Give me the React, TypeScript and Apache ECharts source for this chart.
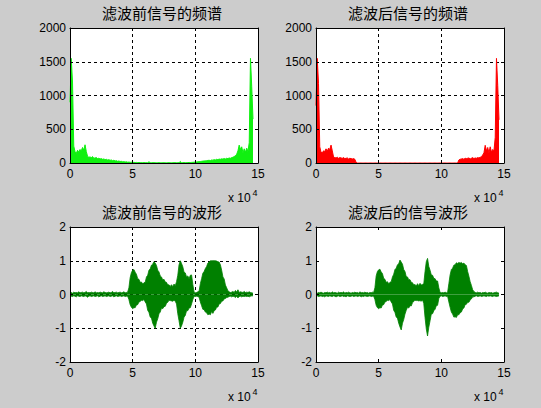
import React, { useEffect, useRef } from "react";
import * as echarts from "echarts";

// One stored point per 1000 samples; x is the sample index.
const SAMPLE_STEP = 1000;
const X_MAX = 150000;
const X_TICK_STEP = 50000;

const titles = ["滤波前信号的频谱", "滤波后信号的频谱", "滤波前信号的波形", "滤波后的信号波形"];

const specTicks = [0, 500, 1000, 1500, 2000];
const waveTicks = [-2, -1, 0, 1, 2];

// |FFT| of the raw recording
const specBefore = [
  900, 1550, 1200, 250, 170, 140, 190, 160, 200, 180,
  230, 190, 270, 170, 100, 85, 90, 80, 95, 70,
  75, 80, 65, 70, 60, 65, 55, 60, 50, 55,
  45, 50, 40, 45, 35, 40, 30, 35, 25, 30,
  22, 25, 18, 20, 15, 18, 12, 14, 10, 12,
  8, 10, 7, 9, 6, 8, 5, 7, 5, 6,
  5, 6, 4, 18, 5, 4, 6, 4, 5, 4,
  4, 5, 3, 4, 5, 3, 4, 3, 5, 4,
  4, 3, 5, 4, 6, 4, 5, 4, 22, 5,
  5, 6, 5, 7, 6, 8, 7, 9, 10, 12,
  14, 16, 18, 20, 22, 25, 28, 30, 32, 35,
  38, 40, 36, 45, 42, 50, 46, 55, 50, 58,
  55, 62, 58, 66, 60, 70, 65, 75, 70, 80,
  85, 95, 110, 130, 180, 265, 200, 240, 150, 210,
  160, 220, 170, 300, 1550, 1130, 650,
];

// |FFT| after the low-pass filter
const specAfter = [
  850, 1550, 1180, 240, 160, 150, 180, 170, 210, 175,
  220, 200, 265, 180, 90, 80, 75, 85, 70, 80,
  75, 70, 80, 65, 70, 75, 60, 70, 65, 60,
  65, 55, 10, 0, 0, 0, 0, 0, 0, 0,
  0, 0, 0, 0, 0, 0, 0, 0, 0, 0,
  0, 0, 0, 0, 0, 0, 0, 0, 0, 0,
  0, 0, 0, 0, 0, 0, 0, 0, 0, 0,
  0, 0, 0, 0, 0, 0, 0, 0, 0, 0,
  0, 0, 0, 0, 0, 0, 0, 0, 0, 0,
  0, 0, 0, 0, 0, 0, 0, 0, 0, 0,
  0, 0, 0, 0, 0, 0, 0, 0, 0, 0,
  0, 0, 0, 0, 45, 55, 60, 65, 55, 70,
  65, 70, 75, 60, 70, 80, 65, 75, 70, 80,
  75, 85, 90, 120, 150, 262, 180, 230, 150, 240,
  160, 200, 180, 380, 1550, 1150, 640,
];

// Waveform envelopes (max / min of each 1000-sample block)
const waveBeforeUpper = [
  0.05, 0.06, 0.04, 0.07, 0.05, 0.06, 0.05, 0.08, 0.05, 0.06,
  0.07, 0.05, 0.06, 0.09, 0.05, 0.06, 0.05, 0.07, 0.06, 0.05,
  0.08, 0.05, 0.06, 0.05, 0.07, 0.06, 0.05, 0.08, 0.06, 0.05,
  0.06, 0.07, 0.05, 0.06, 0.09, 0.05, 0.06, 0.07, 0.05, 0.06,
  0.07, 0.05, 0.06, 0.08, 0.05, 0.06, 0.07, 0.2, 0.5, 0.65,
  0.72, 0.74, 0.66, 0.6, 0.47, 0.45, 0.36, 0.37, 0.31, 0.35,
  0.36, 0.52, 0.57, 0.72, 0.76, 0.87, 0.9, 0.97, 0.93, 0.86,
  0.72, 0.67, 0.55, 0.52, 0.43, 0.45, 0.37, 0.36, 0.28, 0.29,
  0.24, 0.29, 0.23, 0.31, 0.26, 0.38, 0.57, 0.88, 1.0, 0.92,
  0.82, 0.66, 0.64, 0.52, 0.55, 0.47, 0.57, 0.58, 0.3, 0.07,
  0.05, 0.06, 0.08, 0.1, 0.32, 0.47, 0.63, 0.68, 0.77, 0.83,
  0.93, 0.96, 1.0, 1.0, 1.0, 1.0, 1.0, 0.99, 0.97, 0.96,
  0.88, 0.72, 0.52, 0.46, 0.28, 0.2, 0.11, 0.08, 0.06, 0.07,
  0.09, 0.06, 0.12, 0.07, 0.14, 0.06, 0.08, 0.07, 0.06, 0.09,
  0.06, 0.07, 0.06, 0.08, 0.06, 0.05, 0.04,
];
const waveBeforeLower = [
  -0.04, -0.05, -0.06, -0.04, -0.05, -0.07, -0.04, -0.05, -0.06, -0.04,
  -0.05, -0.06, -0.04, -0.05, -0.08, -0.05, -0.04, -0.06, -0.05, -0.04,
  -0.06, -0.05, -0.04, -0.07, -0.05, -0.04, -0.06, -0.05, -0.04, -0.06,
  -0.05, -0.04, -0.06, -0.05, -0.04, -0.07, -0.05, -0.04, -0.06, -0.05,
  -0.04, -0.06, -0.05, -0.04, -0.06, -0.05, -0.05, -0.15, -0.3, -0.38,
  -0.42, -0.39, -0.39, -0.31, -0.3, -0.22, -0.21, -0.17, -0.18, -0.15,
  -0.22, -0.28, -0.47, -0.53, -0.67, -0.7, -0.85, -0.93, -1.0, -0.82,
  -0.72, -0.57, -0.52, -0.4, -0.42, -0.36, -0.35, -0.26, -0.23, -0.17,
  -0.18, -0.19, -0.2, -0.17, -0.2, -0.28, -0.57, -0.78, -1.0, -0.93,
  -0.82, -0.67, -0.62, -0.48, -0.48, -0.4, -0.39, -0.28, -0.15, -0.05,
  -0.06, -0.05, -0.06, -0.08, -0.22, -0.33, -0.44, -0.45, -0.52, -0.54,
  -0.6, -0.58, -0.6, -0.5, -0.56, -0.48, -0.46, -0.38, -0.37, -0.28,
  -0.27, -0.2, -0.19, -0.13, -0.12, -0.09, -0.08, -0.06, -0.05, -0.07,
  -0.05, -0.06, -0.09, -0.05, -0.1, -0.06, -0.05, -0.07, -0.05, -0.06,
  -0.05, -0.06, -0.05, -0.07, -0.05, -0.04, -0.04,
];
const waveAfterUpper = [
  0.05, 0.04, 0.06, 0.05, 0.07, 0.05, 0.04, 0.06, 0.05, 0.07,
  0.05, 0.06, 0.04, 0.08, 0.05, 0.06, 0.05, 0.04, 0.07, 0.05,
  0.06, 0.05, 0.08, 0.04, 0.06, 0.05, 0.07, 0.05, 0.04, 0.06,
  0.05, 0.07, 0.05, 0.06, 0.04, 0.08, 0.05, 0.06, 0.05, 0.07,
  0.05, 0.06, 0.04, 0.06, 0.05, 0.07, 0.06, 0.2, 0.55, 0.68,
  0.73, 0.75, 0.67, 0.62, 0.48, 0.45, 0.36, 0.38, 0.32, 0.36,
  0.38, 0.52, 0.6, 0.74, 0.78, 0.88, 0.91, 1.02, 0.96, 0.9,
  0.74, 0.68, 0.53, 0.52, 0.44, 0.44, 0.36, 0.35, 0.28, 0.3,
  0.25, 0.32, 0.26, 0.33, 0.28, 0.3, 0.32, 0.68, 0.97, 1.07,
  0.83, 0.72, 0.58, 0.57, 0.48, 0.47, 0.4, 0.4, 0.2, 0.06,
  0.05, 0.06, 0.05, 0.07, 0.05, 0.06, 0.32, 0.58, 0.74, 0.78,
  0.87, 0.88, 0.94, 0.92, 0.95, 0.93, 0.95, 0.91, 0.93, 0.88,
  0.86, 0.68, 0.54, 0.38, 0.27, 0.14, 0.09, 0.06, 0.05, 0.07,
  0.05, 0.06, 0.04, 0.06, 0.05, 0.07, 0.05, 0.04, 0.06, 0.05,
  0.06, 0.04, 0.05, 0.06, 0.07, 0.05, 0.04,
];
const waveAfterLower = [
  -0.05, -0.04, -0.06, -0.05, -0.04, -0.06, -0.05, -0.07, -0.04, -0.05,
  -0.06, -0.04, -0.05, -0.06, -0.04, -0.05, -0.07, -0.05, -0.04, -0.06,
  -0.05, -0.04, -0.06, -0.05, -0.07, -0.04, -0.05, -0.06, -0.05, -0.04,
  -0.06, -0.05, -0.04, -0.06, -0.05, -0.04, -0.07, -0.05, -0.06, -0.04,
  -0.05, -0.06, -0.05, -0.04, -0.06, -0.05, -0.05, -0.15, -0.32, -0.39,
  -0.42, -0.39, -0.4, -0.31, -0.3, -0.22, -0.21, -0.17, -0.18, -0.15,
  -0.22, -0.28, -0.47, -0.53, -0.67, -0.7, -0.85, -0.96, -1.05, -0.85,
  -0.74, -0.58, -0.47, -0.38, -0.4, -0.33, -0.34, -0.24, -0.21, -0.17,
  -0.18, -0.18, -0.19, -0.18, -0.2, -0.16, -0.27, -0.68, -1.02, -1.23,
  -0.97, -0.78, -0.58, -0.57, -0.48, -0.44, -0.33, -0.32, -0.12, -0.05,
  -0.04, -0.06, -0.05, -0.04, -0.06, -0.05, -0.22, -0.38, -0.52, -0.58,
  -0.67, -0.66, -0.68, -0.6, -0.6, -0.54, -0.52, -0.43, -0.4, -0.3,
  -0.29, -0.23, -0.23, -0.16, -0.13, -0.07, -0.07, -0.05, -0.04, -0.06,
  -0.05, -0.04, -0.06, -0.05, -0.04, -0.05, -0.06, -0.04, -0.05, -0.04,
  -0.05, -0.06, -0.04, -0.05, -0.06, -0.05, -0.04,
];

const FONT = '"Liberation Sans", Arial, sans-serif';
const CJK = '"Noto Sans CJK SC", "Noto Sans CJK TC", sans-serif';
const BG = "#cccccc";
const SPEC_GREEN = "#10f010";
const SPEC_RED = "#ff0000";
const WAVE_GREEN = "#008000";

const PLOT_W = 188;
const PLOT_H = 135;
const panels = [
  { left: 70, top: 28, ticks: specTicks, showGrid: true },
  { left: 316, top: 28, ticks: specTicks, showGrid: true },
  { left: 70, top: 227, ticks: waveTicks, showGrid: true },
  { left: 316, top: 227, ticks: waveTicks, showGrid: false },
];

const toPoints = (arr: number[]) => arr.map((v, i) => [i * SAMPLE_STEP, v]);

function buildOption() {
  const grid: any[] = [];
  const xAxis: any[] = [];
  const yAxis: any[] = [];
  const graphic: any[] = [];

  const axisLine = { show: true, onZero: false, lineStyle: { color: "#000", width: 1 } };
  const axisTick = { show: true, inside: true, length: 3, lineStyle: { color: "#000", width: 1 } };
  const dashed = { color: "#000", width: 1, type: [3, 3] };

  panels.forEach((p, g) => {
    const yMin = p.ticks[0];
    const yMax = p.ticks[p.ticks.length - 1];
    const yStep = p.ticks[1] - p.ticks[0];
    grid.push({
      left: p.left,
      top: p.top,
      width: PLOT_W,
      height: PLOT_H,
      show: true,
      backgroundColor: "#ffffff",
      borderWidth: 0,
      containLabel: false,
      outerBoundsMode: "none",
    });
    const xBase = { type: "value", gridIndex: g, min: 0, max: X_MAX, interval: X_TICK_STEP };
    // bottom: frame, ticks, labels (drawn above the data)
    xAxis.push({
      ...xBase,
      position: "bottom",
      z: 3,
      axisLine,
      axisTick,
      splitLine: { show: false },
      axisLabel: {
        color: "#000",
        fontSize: 12,
        fontFamily: FONT,
        margin: 5,
        formatter: (v: number) => String(v / 10000),
      },
    });
    // top: frame, ticks and the dotted grid (below the data)
    xAxis.push({
      ...xBase,
      position: "top",
      z: 0,
      axisLine,
      axisTick,
      axisLabel: { show: false },
      splitLine: { show: p.showGrid, lineStyle: dashed },
    });
    const yBase = { type: "value", gridIndex: g, min: yMin, max: yMax, interval: yStep };
    yAxis.push({
      ...yBase,
      position: "left",
      z: 3,
      axisLine,
      axisTick,
      splitLine: { show: false },
      axisLabel: {
        color: "#000",
        fontSize: 12,
        fontFamily: FONT,
        margin: 4,
        formatter: (v: number) => String(v),
      },
    });
    yAxis.push({
      ...yBase,
      position: "right",
      z: 0,
      axisLine,
      axisTick,
      axisLabel: { show: false },
      splitLine: { show: p.showGrid, lineStyle: dashed },
    });

    // panel title
    graphic.push({
      type: "text",
      x: p.left + PLOT_W / 2 - 2,
      y: p.top - 15.5,
      style: {
        text: titles[g],
        fill: "#000",
        font: `15px ${CJK}`,
        align: "center",
        verticalAlign: "middle",
      },
    });
    // x-axis exponent "x 10^4"
    graphic.push({
      type: "text",
      x: p.left + PLOT_W - 30,
      y: p.top + PLOT_H + 35,
      style: { text: "x 10", fill: "#000", font: `12px ${FONT}`, align: "left", verticalAlign: "middle" },
    });
    graphic.push({
      type: "text",
      x: p.left + PLOT_W - 5.5,
      y: p.top + PLOT_H + 30,
      style: { text: "4", fill: "#000", font: `9px ${FONT}`, align: "left", verticalAlign: "middle" },
    });
  });

  const specSeries = (g: number, data: number[], color: string) => ({
    type: "line",
    xAxisIndex: g * 2,
    yAxisIndex: g * 2,
    data: toPoints(data),
    symbol: "none",
    silent: true,
    z: 2,
    lineStyle: { color, width: 1 },
    itemStyle: { color },
    areaStyle: { color, opacity: 1, origin: "start" },
  });
  const waveSeries = (g: number, data: number[]) => ({
    type: "line",
    xAxisIndex: g * 2,
    yAxisIndex: g * 2,
    data: toPoints(data),
    symbol: "none",
    silent: true,
    z: 2,
    lineStyle: { color: WAVE_GREEN, width: 0.8 },
    itemStyle: { color: WAVE_GREEN },
    areaStyle: { color: WAVE_GREEN, opacity: 1, origin: "auto" },
  });

  return {
    animation: false,
    backgroundColor: BG,
    grid,
    xAxis,
    yAxis,
    graphic,
    series: [
      specSeries(0, specBefore, SPEC_GREEN),
      specSeries(1, specAfter, SPEC_RED),
      waveSeries(2, waveBeforeUpper),
      waveSeries(2, waveBeforeLower),
      waveSeries(3, waveAfterUpper),
      waveSeries(3, waveAfterLower),
    ],
  };
}

export default function App() {
  const ref = useRef<HTMLDivElement>(null);
  useEffect(() => {
    document.body.style.margin = "0";
    const chart = echarts.init(ref.current!, null, { renderer: "svg" });
    chart.setOption(buildOption() as any);
    return () => chart.dispose();
  }, []);
  return <div ref={ref} style={{ width: 541, height: 408, background: BG }} />;
}
